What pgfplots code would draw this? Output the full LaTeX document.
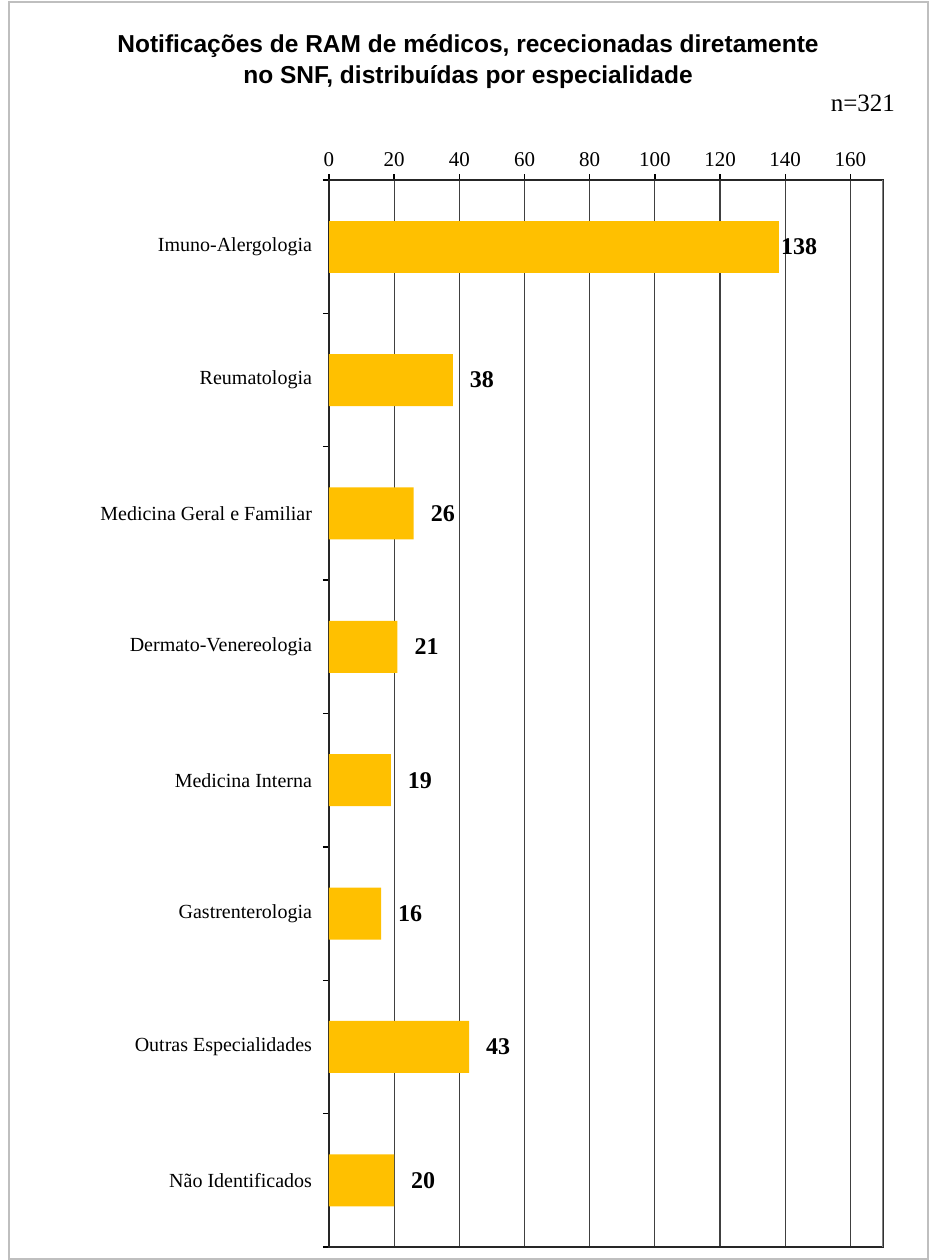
\documentclass[border=0pt]{standalone}
\usepackage{pgfplots}
\pgfplotsset{compat=1.18}
\usepackage{fontspec}
\setmainfont{Liberation Serif}
\newfontfamily\titlefont{Liberation Sans}
\definecolor{barorange}{HTML}{FFC000}
\definecolor{gridgray}{HTML}{404040}
\definecolor{framegray}{HTML}{BFBFBF}

\begin{document}
\begin{tikzpicture}
\path[use as bounding box] (0,0) rectangle (464.5pt,630pt);
\draw[framegray, line width=1pt] (4.5pt,0.5pt) rectangle (464pt,629pt);

\node[align=center, font=\titlefont\bfseries\fontsize{12.25}{15.5}\selectfont]
  at (234pt,599pt) {Notificações de RAM de médicos, rececionadas diretamente\\no SNF, distribuídas por especialidade};
\node[anchor=east, font=\fontsize{12.5}{14}\selectfont] at (451pt,578.5pt) {n=321};

\begin{axis}[
  at={(164.5pt,6.5pt)}, anchor=south west,
  scale only axis, width=277pt, height=533.5pt,
  xbar, bar width=26pt,
  xmin=0, xmax=170, ymin=-0.5, ymax=7.5, y dir=reverse,
  /pgf/number format/assume math mode=true,
  xtick={0,20,...,160},
  xticklabel pos=upper, xtick pos=upper,
  ytick pos=left,
  ytick={-0.5,0.5,...,7.5}, yticklabels={},
  extra y ticks={0,1,2,3,4,5,6,7},
  extra y tick labels={Imuno-Alergologia, Reumatologia, Medicina Geral e Familiar, Dermato-Venereologia, Medicina Interna, Gastrenterologia, Outras Especialidades, Não Identificados},
  extra y tick style={major tick length=0pt, yticklabel style={xshift=-5pt}},
  tick align=outside, major tick length=3pt,
  tick style={black, line width=0.7pt},
  xmajorgrids, grid style={gridgray, line width=0.6pt},
  axis line style={black!85, line width=0.8pt},
  ticklabel style={font=\fontsize{10}{12}\selectfont},
  xticklabel style={font=\fontsize{10.5}{12}\selectfont},
]
\addplot[fill=barorange, draw=none, bar shift=0pt,
  nodes near coords,
  nodes near coords style={anchor=west, xshift=5pt, black, font=\bfseries\fontsize{12}{14}\selectfont}]
  coordinates {(38,1) (26,2) (21,3) (19,4) (16,5) (43,6) (20,7)};
\addplot[fill=barorange, draw=none, bar shift=0pt,
  nodes near coords,
  nodes near coords style={anchor=west, xshift=0pt, inner sep=1pt, black, font=\bfseries\fontsize{12}{14}\selectfont}]
  coordinates {(138,0)};
\draw[gray, line width=0.9pt] (axis cs:170,-0.5) -- (axis cs:170,7.5);
\end{axis}
\end{tikzpicture}
\end{document}
